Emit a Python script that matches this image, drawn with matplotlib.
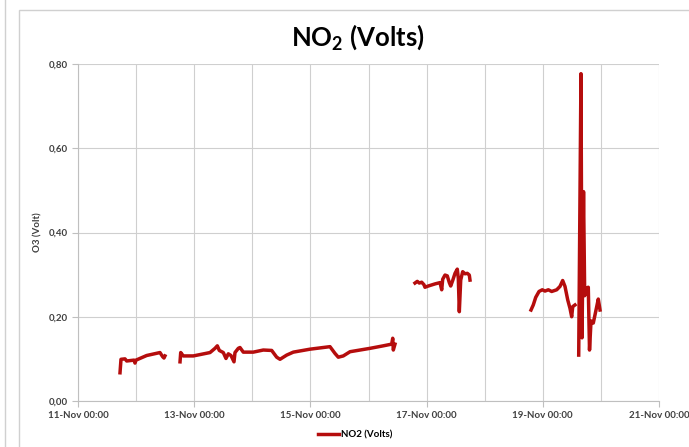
import matplotlib
matplotlib.use('Agg')
import matplotlib.pyplot as plt
import matplotlib.dates as mdates
from matplotlib.patches import Rectangle
from matplotlib.lines import Line2D
import pandas as pd

# time offsets in days from 11-Nov 00:00, values in volts
start = pd.Timestamp('2011-11-11 00:00')

seg1_days = [0.723, 0.740, 0.809, 0.838, 0.964, 0.981, 0.998, 1.182, 1.411, 1.458, 1.480, 1.497]
seg1_vals = [0.067, 0.099, 0.100, 0.095, 0.097, 0.090, 0.097, 0.108, 0.115, 0.105, 0.102, 0.107]

seg2_days = [1.756, 1.768, 1.812, 1.985, 2.272, 2.358, 2.398, 2.432, 2.501, 2.547, 2.587, 2.633,
             2.685, 2.702, 2.759, 2.788, 2.845, 3.017, 3.189, 3.334, 3.420, 3.477, 3.592, 3.706,
             3.993, 4.337, 4.423, 4.480, 4.566, 4.682, 5.026, 5.255, 5.399, 5.417, 5.427, 5.456]
seg2_vals = [0.093, 0.115, 0.107, 0.107, 0.115, 0.125, 0.131, 0.120, 0.115, 0.101, 0.112, 0.108,
             0.093, 0.115, 0.125, 0.127, 0.116, 0.116, 0.121, 0.120, 0.104, 0.099, 0.109, 0.116,
             0.123, 0.129, 0.113, 0.104, 0.107, 0.117, 0.125, 0.131, 0.135, 0.149, 0.121, 0.135]

seg3_days = [5.800, 5.840, 5.874, 5.915, 5.955, 5.972, 6.029, 6.145, 6.231, 6.260, 6.277, 6.317,
             6.356, 6.391, 6.415, 6.449, 6.489, 6.528, 6.546, 6.563, 6.587, 6.621, 6.661, 6.701,
             6.735, 6.747]
seg3_vals = [0.280, 0.284, 0.280, 0.282, 0.276, 0.270, 0.273, 0.278, 0.281, 0.264, 0.289, 0.299,
             0.297, 0.281, 0.273, 0.286, 0.303, 0.313, 0.291, 0.212, 0.287, 0.307, 0.302, 0.303,
             0.299, 0.287]

seg4_days = [7.797, 7.836, 7.878, 7.935, 7.991, 8.038, 8.095, 8.153, 8.239, 8.296, 8.342, 8.382,
             8.429, 8.468, 8.497, 8.515, 8.554]
seg4_vals = [0.216, 0.228, 0.246, 0.260, 0.264, 0.261, 0.264, 0.260, 0.264, 0.272, 0.286, 0.272,
             0.240, 0.220, 0.200, 0.224, 0.228]

seg5_days = [8.618, 8.657, 8.675, 8.701, 8.721, 8.744, 8.783, 8.804, 8.830, 8.869, 8.928, 8.955, 8.985]
seg5_vals = [0.109, 0.777, 0.150, 0.497, 0.250, 0.268, 0.270, 0.121, 0.190, 0.185, 0.224, 0.242, 0.216]

segments = [(seg1_days, seg1_vals), (seg2_days, seg2_vals), (seg3_days, seg3_vals),
            (seg4_days, seg4_vals), (seg5_days, seg5_vals)]

line_color = '#B50D0D'
grid_color = '#CFCFCF'
text_color = '#404040'
plt.rcParams['font.family'] = ['Lato', 'DejaVu Sans']

fig = plt.figure(figsize=(6.89, 4.47), dpi=100)
fig.patches.append(Rectangle((19/689, -0.05), 1.0, 1 - 10/447 + 0.05, transform=fig.transFigure,
                             fill=False, edgecolor='#D0D0D0', linewidth=1.0))
fig.lines.append(Line2D([5/689, 5/689], [0, 1], transform=fig.transFigure, color='#D0D0D0', lw=1.0))

ax = fig.add_axes([78/689, 1 - 401/447, (659 - 78)/689, (401 - 64)/447])
for days, vals in segments:
    t = start + pd.to_timedelta(days, unit='D')
    ax.plot(t, vals, color=line_color, lw=2.5, solid_joinstyle='round')

ax.set_xlim(start, start + pd.Timedelta(days=10))
ax.set_ylim(0, 0.8)
ax.xaxis.set_major_locator(mdates.DayLocator(interval=2))
ax.xaxis.set_minor_locator(mdates.DayLocator())
ax.xaxis.set_major_formatter(mdates.DateFormatter('%d-%b %H:%M'))
ax.set_yticks([0, 0.2, 0.4, 0.6, 0.8])
ax.yaxis.set_major_formatter(plt.FuncFormatter(lambda v, p: f'{v:.2f}'.replace('.', ',')))

ax.grid(True, which='both', color=grid_color, lw=0.8)
ax.set_axisbelow(True)
for s in ['top', 'right']:
    ax.spines[s].set_visible(False)
for s in ['left', 'bottom']:
    ax.spines[s].set_color('#BFBFBF')
ax.tick_params(which='major', length=4, color='#BFBFBF', labelsize=7, labelcolor=text_color)
ax.tick_params(which='minor', length=0)
for lab in ax.get_xticklabels() + ax.get_yticklabels():
    lab.set_fontweight('bold')

ax.set_ylabel('O3 (Volt)', fontsize=7, fontweight='bold', color=text_color, labelpad=4)
fig.text(358/689, 1 - 37/447, 'NO$_\\mathregular{2}$ (Volts)', ha='center', va='center',
         fontsize=18.5, fontweight='bold', color='#000000')

handle = Line2D([], [], color=line_color, lw=2.5)
fig.legend([handle], ['NO2 (Volts)'], loc='center', bbox_to_anchor=(355/689, 1 - 435/447),
           frameon=False, handlelength=2.2, handletextpad=0.2,
           prop={'weight': 'bold', 'size': 7})

fig.savefig('out.png', dpi=100)
